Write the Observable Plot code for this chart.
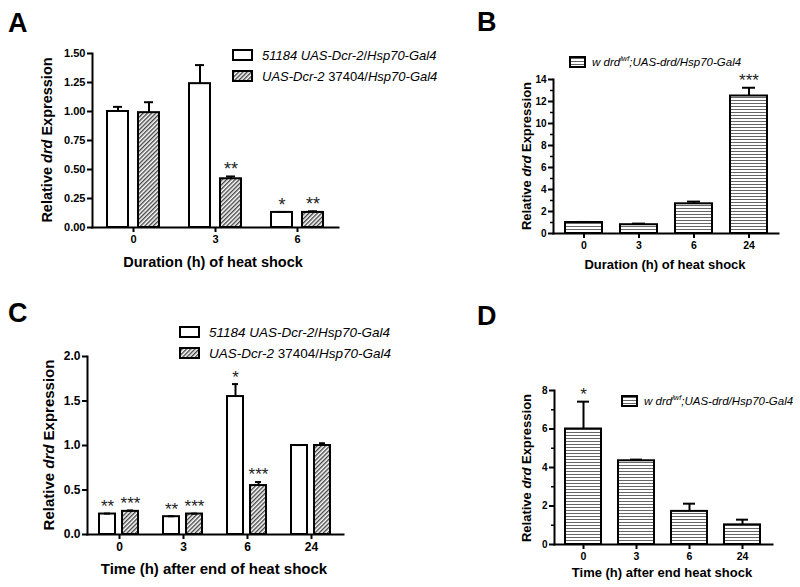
<!DOCTYPE html>
<html><head><meta charset="utf-8">
<script src="https://cdn.jsdelivr.net/npm/d3@7"></script>
<script src="https://cdn.jsdelivr.net/npm/@observablehq/plot@0.6"></script>
<style>
body{margin:0;background:#fff;}
#fig{position:relative;width:800px;height:587px;overflow:hidden;font-family:"Liberation Sans",Arial,sans-serif;background:#fff;}
#fig svg{position:absolute;}
</style></head><body>
<svg width="0" height="0" style="position:absolute;left:0;top:0"><defs>
<pattern id="diag" patternUnits="userSpaceOnUse" width="3" height="3" patternTransform="rotate(45)"><rect width="3" height="3" fill="#fff"/><line x1="0.7" y1="0" x2="0.7" y2="3" stroke="#444" stroke-width="1.4"/></pattern>
<pattern id="horiz" patternUnits="userSpaceOnUse" width="4" height="3"><rect width="4" height="3" fill="#fff"/><line x1="0" y1="1.5" x2="4" y2="1.5" stroke="#666" stroke-width="1"/></pattern>
</defs></svg>
<div id="fig"></div>
<script>
// ---------- DATA ----------
// Panel A: duration of heat shock, two lines
const aGroups = ["0", "3", "6"];
const aWhiteMean = [1.00, 1.24, 0.13];
const aWhiteSem = [0.04, 0.16, 0.004];
const aHatchMean = [0.99, 0.42, 0.13];
const aHatchSem = [0.09, 0.02, 0.01];
const aWhiteStars = ["", "", "*"];
const aHatchStars = ["", "**", "**"];
const aYTicks = [0, 0.25, 0.5, 0.75, 1.0, 1.25, 1.5];

// Panel B: duration of heat shock, drd rescue
const bGroups = ["0", "3", "6", "24"];
const bMean = [1.0, 0.8, 2.7, 12.5];
const bSem = [0.05, 0.1, 0.2, 0.75];
const bStars = ["", "", "", "***"];
const bYTicks = [0, 2, 4, 6, 8, 10, 12, 14];
const bYMinor = [1, 3, 5, 7, 9, 11, 13];

// Panel C: time after end of heat shock, two lines
const cGroups = ["0", "3", "6", "24"];
const cWhiteMean = [0.23, 0.20, 1.55, 1.00];
const cWhiteSem = [0.005, 0.005, 0.14, 0.005];
const cHatchMean = [0.26, 0.23, 0.55, 1.00];
const cHatchSem = [0.01, 0.005, 0.04, 0.025];
const cWhiteStars = ["**", "**", "*", ""];
const cHatchStars = ["***", "***", "***", ""];
const cYTicks = [0, 0.5, 1.0, 1.5, 2.0];

// Panel D: time after end of heat shock, drd rescue
const dGroups = ["0", "3", "6", "24"];
const dMean = [6.0, 4.35, 1.72, 1.02];
const dSem = [1.42, 0.06, 0.4, 0.27];
const dStars = ["*", "", "", ""];
const dYTicks = [0, 2, 4, 6, 8];
const dYMinor = [1, 3, 5, 7];

const FONT = '"Liberation Sans", Arial, sans-serif';
const fig = document.getElementById("fig");

function place(el, left, top) {
  el.style.left = left + "px";
  el.style.top = top + "px";
  fig.appendChild(el);
}

function groupedPanel(c) {
  const rows = [];
  c.groups.forEach((g, i) => {
    rows.push({g, s: "white", v: c.white[i], e: c.white[i] + c.whiteSem[i], star: c.whiteStars[i]});
    rows.push({g, s: "hatch", v: c.hatch[i], e: c.hatch[i] + c.hatchSem[i], star: c.hatchStars[i]});
  });
  return Plot.plot({
    width: c.width, height: c.height,
    marginLeft: c.ml, marginRight: c.mr, marginTop: c.mt, marginBottom: c.mb,
    style: {fontFamily: FONT, fontSize: c.tickFont + "px", fontWeight: "bold", color: "#000", background: "transparent", overflow: "visible"},
    fx: {domain: c.groups, paddingInner: 0, paddingOuter: c.fxOuter, align: c.fxAlign, label: null},
    x: {domain: ["white", "hatch"], paddingInner: c.xInner, paddingOuter: c.xOuter, axis: null},
    y: {domain: c.yDomain, label: null},
    marks: [
      Plot.barY(rows.filter(d => d.s === "white"), {fx: "g", x: "s", y: "v", fill: "white", stroke: "black", strokeWidth: 2}),
      Plot.barY(rows.filter(d => d.s === "hatch"), {fx: "g", x: "s", y: "v", fill: "url(#diag)", stroke: "black", strokeWidth: 2}),
      Plot.ruleX(rows, {fx: "g", x: "s", y1: "v", y2: "e", stroke: "black", strokeWidth: 2}),
      Plot.tickY(rows, {fx: "g", x: "s", y: "e", stroke: "black", strokeWidth: 2, inset: c.capInset}),
      Plot.text(rows, {fx: "g", x: "s", y: "e", text: "star", dy: -7, fontSize: c.starFont, fontWeight: "normal", fill: "#222"}),
      Plot.axisY({ticks: c.yTicks, tickFormat: c.yFormat, tickSize: 5, tickPadding: 2, strokeWidth: 2, label: null}),
      Plot.axisFx({anchor: "bottom", tickSize: 5, tickPadding: 3, strokeWidth: 2, label: null, fontSize: c.xTickFont}),
      Plot.frame({facet: "super", anchor: "left", strokeWidth: 2}),
      Plot.frame({facet: "super", anchor: "bottom", strokeWidth: 2})
    ]
  });
}

function singlePanel(c) {
  const rows = c.groups.map((g, i) => ({g, v: c.mean[i], e: c.mean[i] + c.sem[i], star: c.stars[i]}));
  return Plot.plot({
    width: c.width, height: c.height,
    marginLeft: c.ml, marginRight: c.mr, marginTop: c.mt, marginBottom: c.mb,
    style: {fontFamily: FONT, fontSize: c.tickFont + "px", fontWeight: "bold", color: "#000", background: "transparent", overflow: "visible"},
    x: {domain: c.groups, paddingInner: c.xInner, paddingOuter: c.xOuter, label: null},
    y: {domain: c.yDomain, label: null},
    marks: [
      Plot.barY(rows, {x: "g", y: "v", fill: "url(#horiz)", stroke: "black", strokeWidth: 2}),
      Plot.ruleX(rows, {x: "g", y1: "v", y2: "e", stroke: "black", strokeWidth: 2}),
      Plot.tickY(rows, {x: "g", y: "e", stroke: "black", strokeWidth: 2, inset: c.capInset}),
      Plot.text(rows, {x: "g", y: "e", text: "star", dy: -7, fontSize: c.starFont, fontWeight: "normal", fill: "#222"}),
      Plot.axisY({ticks: c.yTicks, tickSize: 5, tickPadding: 2, strokeWidth: 2, label: null}),
      Plot.axisY({ticks: c.yMinor, tickSize: 3, tickFormat: () => "", strokeWidth: 1.5, label: null}),
      Plot.axisX({anchor: "bottom", tickSize: 5, tickPadding: 3, strokeWidth: 2, label: null, fontSize: c.xTickFont}),
      Plot.frame({anchor: "left", strokeWidth: 2}),
      Plot.frame({anchor: "bottom", strokeWidth: 2})
    ]
  });
}

place(groupedPanel({
  groups: aGroups, white: aWhiteMean, whiteSem: aWhiteSem, hatch: aHatchMean, hatchSem: aHatchSem,
  whiteStars: aWhiteStars, hatchStars: aHatchStars, yDomain: [0, 1.5], yTicks: aYTicks, yFormat: d3.format(".2f"),
  width: 400, height: 290, ml: 87, mr: 62, mt: 53, mb: 63,
  fxOuter: 0.03, fxAlign: 1, xInner: 0.32, xOuter: 0.48, capInset: 6, starFont: 18, tickFont: 11, xTickFont: 11
}), 0, 0);

place(singlePanel({
  groups: bGroups, mean: bMean, sem: bSem, stars: bStars, yDomain: [0, 14], yTicks: bYTicks, yMinor: bYMinor,
  width: 400, height: 290, ml: 153, mr: 22, mt: 79, mb: 57,
  xInner: 0.33, xOuter: 0.21, capInset: 12, starFont: 17, tickFont: 10, xTickFont: 10.5
}), 400, 0);

place(groupedPanel({
  groups: cGroups, white: cWhiteMean, whiteSem: cWhiteSem, hatch: cHatchMean, hatchSem: cHatchSem,
  whiteStars: cWhiteStars, hatchStars: cHatchStars, yDomain: [0, 2], yTicks: cYTicks, yFormat: d3.format(".1f"),
  width: 400, height: 297, ml: 87, mr: 57, mt: 66, mb: 53,
  fxOuter: 0, fxAlign: 0.5, xInner: 0.29, xOuter: 0.48, capInset: 5, starFont: 17, tickFont: 12, xTickFont: 12
}), 0, 290);

place(singlePanel({
  groups: dGroups, mean: dMean, sem: dSem, stars: dStars, yDomain: [0, 8], yTicks: dYTicks, yMinor: dYMinor,
  width: 400, height: 297, ml: 154, mr: 28, mt: 100, mb: 43,
  xInner: 0.32, xOuter: 0.2, capInset: 12, starFont: 17, tickFont: 10, xTickFont: 10.5
}), 400, 290);

// ---------- Annotation overlay (titles, letters, legends) ----------
const letters = [["A", 8, 32], ["B", 477, 31], ["C", 8, 322], ["D", 477, 325]];
const yTitles = [[47, 140, 14.5], [526, 156, 13], [48, 445, 15], [526, 468, 13]];
const xTitles = [["Duration (h) of heat shock", 213, 262, 14.5], ["Duration (h) of heat shock", 665, 264, 13],
                 ["Time (h) after end of heat shock", 214, 568, 15], ["Time (h) after end heat shock", 662, 572, 13]];
const twoLegends = [[233, 50, 21, 13], [180, 327, 21, 13.5]];
const oneLegends = [[570, 57, 11.5], [622, 396, 11.5]];

let s = `<svg width="800" height="587" style="left:0;top:0;pointer-events:none" font-family='${FONT}'>`;
for (const [t, x, y] of letters) s += `<text x="${x}" y="${y}" font-size="27" font-weight="bold">${t}</text>`;
for (const [x, y, f] of yTitles) s += `<text transform="translate(${x},${y}) rotate(-90)" text-anchor="middle" dominant-baseline="central" font-size="${f}" font-weight="bold">Relative <tspan font-style="italic">drd</tspan> Expression</text>`;
for (const [t, x, y, f] of xTitles) s += `<text x="${x}" y="${y}" text-anchor="middle" dominant-baseline="central" font-size="${f}" font-weight="bold">${t}</text>`;
for (const [x, y, dy, f] of twoLegends) {
  s += `<rect x="${x}" y="${y}" width="19" height="10" fill="white" stroke="black" stroke-width="2"/>`;
  s += `<rect x="${x}" y="${y + dy}" width="19" height="10" fill="url(#diag)" stroke="black" stroke-width="2"/>`;
  s += `<text x="${x + 29}" y="${y + 5}" dominant-baseline="central" font-size="${f}"><tspan font-style="italic">51184 UAS-Dcr-2</tspan>/<tspan font-style="italic">Hsp70-Gal4</tspan></text>`;
  s += `<text x="${x + 29}" y="${y + dy + 5}" dominant-baseline="central" font-size="${f}"><tspan font-style="italic">UAS-Dcr-2</tspan> 37404/<tspan font-style="italic">Hsp70-Gal4</tspan></text>`;
}
for (const [x, y, f] of oneLegends) {
  s += `<rect x="${x}" y="${y}" width="15" height="10" fill="url(#horiz)" stroke="black" stroke-width="2"/>`;
  s += `<text x="${x + 22}" y="${y + 5}" dominant-baseline="central" font-size="${f}" font-style="italic">w drd<tspan dy="-4" font-size="${f * 0.65}">lwf</tspan><tspan dy="4">;UAS-drd/Hsp70-Gal4</tspan></text>`;
}
s += `</svg>`;
fig.insertAdjacentHTML("beforeend", s);
</script>
</body></html>
